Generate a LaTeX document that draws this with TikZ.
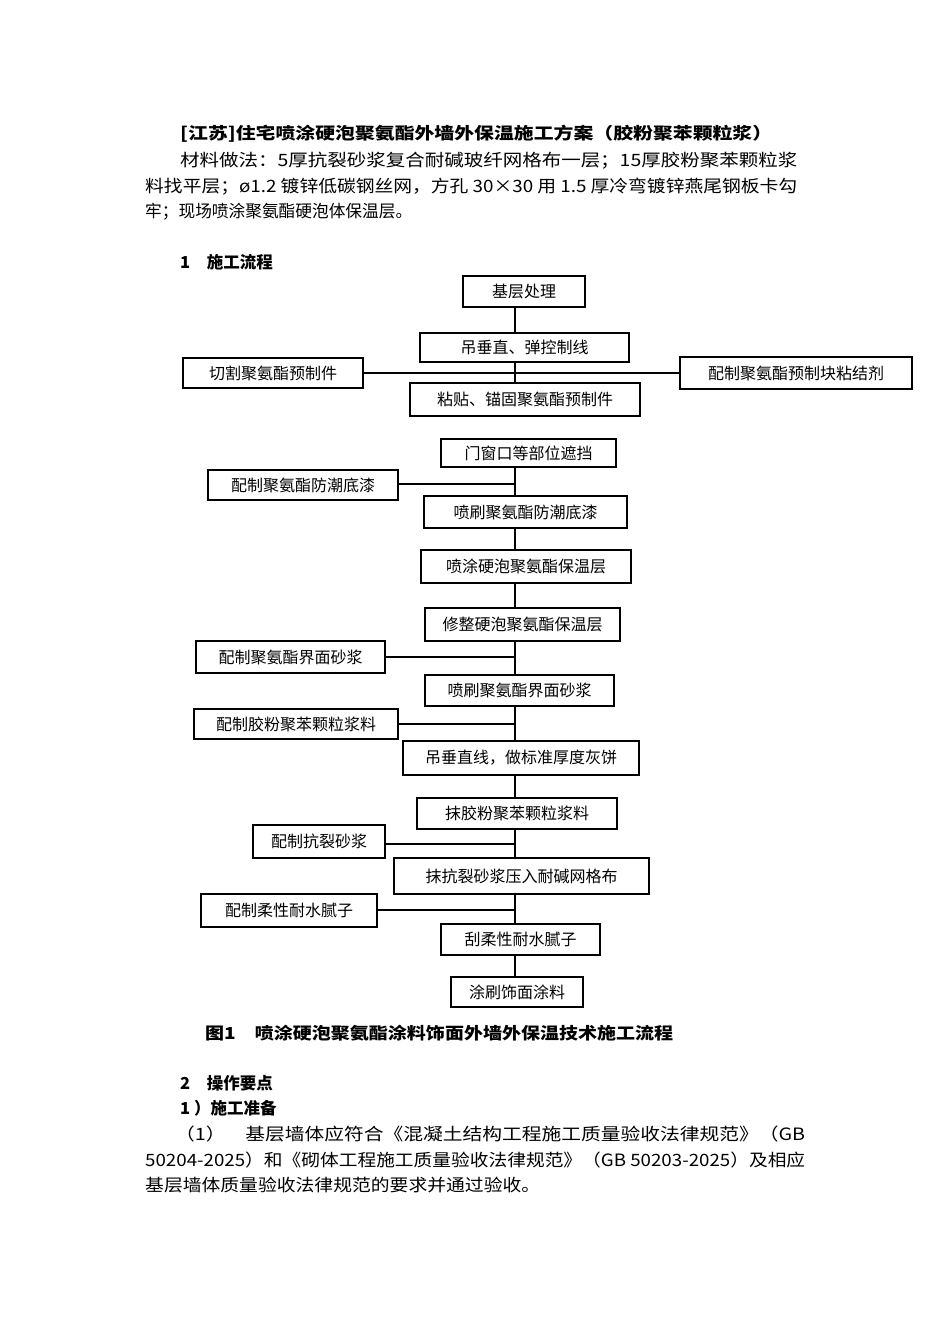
\documentclass[tikz,border=0pt]{standalone}
\usepackage{fontspec}
\usepackage{graphicx}
\setmainfont{Noto Sans CJK SC}
\begin{document}
\begin{tikzpicture}[x=1pt,y=-1pt,
  bx/.style={draw,line width=1.2pt,inner sep=0pt,font=\fontsize{16}{18}\selectfont},
  ln/.style={line width=1.1pt},
  tx/.style={anchor=west,inner sep=0pt,font=\fontsize{17}{18}\selectfont},
  hd/.style={anchor=west,inner sep=0pt,font=\fontsize{16.5}{18}\selectfont\bfseries}]
\useasboundingbox (0,0) rectangle (950,1344);
\newcommand\bbox[6]{\node[bx,minimum width=#4-#2,minimum height=#5-#3] (#1) at ({(#2+#4)/2},{(#3+#5)/2}) {#6};}
\newcommand\txw[2]{\resizebox{#1pt}{\height}{#2}}
\bbox{a}{463}{276}{585}{307}{基层处理}
\bbox{b}{420}{333}{629}{362}{吊垂直、弹控制线}
\bbox{c}{183}{358}{363}{388}{切割聚氨酯预制件}
\bbox{d}{680}{357}{912}{389}{配制聚氨酯预制块粘结剂}
\bbox{e}{410}{383}{640}{416}{粘贴、锚固聚氨酯预制件}
\bbox{f}{441}{439}{616}{467}{门窗口等部位遮挡}
\bbox{g}{208}{470}{398}{500}{配制聚氨酯防潮底漆}
\bbox{h}{424}{496}{627}{528}{喷刷聚氨酯防潮底漆}
\bbox{i}{421}{550}{631}{583}{喷涂硬泡聚氨酯保温层}
\bbox{j}{425}{608}{620}{641}{修整硬泡聚氨酯保温层}
\bbox{k}{196}{641}{385}{673}{配制聚氨酯界面砂浆}
\bbox{l}{425}{675}{614}{706}{喷刷聚氨酯界面砂浆}
\bbox{m}{194}{709}{398}{739}{配制胶粉聚苯颗粒浆料}
\bbox{n}{403}{741}{639}{775}{吊垂直线，做标准厚度灰饼}
\bbox{o}{417}{798}{617}{829}{抹胶粉聚苯颗粒浆料}
\bbox{p}{253}{825}{385}{858}{配制抗裂砂浆}
\bbox{q}{394}{858}{649}{894}{抹抗裂砂浆压入耐碱网格布}
\bbox{r}{201}{894}{377}{927}{配制柔性耐水腻子}
\bbox{s}{441}{924}{600}{955}{刮柔性耐水腻子}
\bbox{t}{451}{977}{583}{1007}{涂刷饰面涂料}
% spine
\draw[ln] (a.south -| 515,0) -- (b.north -| 515,0);
\draw[ln] (b.south -| 515,0) -- (e.north -| 515,0);
\draw[ln] (c.east) -- (d.west);
\draw[ln] (f.south -| 515,0) -- (h.north -| 515,0);
\draw[ln] (g.east |- 0,484) -- (515,484);
\draw[ln] (h.south -| 515,0) -- (i.north -| 515,0);
\draw[ln] (i.south -| 515,0) -- (j.north -| 515,0);
\draw[ln] (j.south -| 515,0) -- (l.north -| 515,0);
\draw[ln] (k.east |- 0,657) -- (515,657);
\draw[ln] (l.south -| 515,0) -- (n.north -| 515,0);
\draw[ln] (m.east |- 0,724) -- (515,724);
\draw[ln] (n.south -| 515,0) -- (o.north -| 515,0);
\draw[ln] (o.south -| 515,0) -- (q.north -| 515,0);
\draw[ln] (p.east |- 0,844) -- (515,844);
\draw[ln] (q.south -| 515,0) -- (s.north -| 515,0);
\draw[ln] (r.east |- 0,910) -- (515,910);
\draw[ln] (s.south -| 515,0) -- (t.north -| 515,0);
% texts
\node[hd] (T) at (180,134) {\txw{592}{[江苏]住宅喷涂硬泡聚氨酯外墙外保温施工方案（胶粉聚苯颗粒浆）}};
\node[tx] (p1) at (180,161) {\txw{617}{材料做法：5厚抗裂砂浆复合耐碱玻纤网格布一层；15厚胶粉聚苯颗粒浆}};
\node[tx] (p2) at (145,187) {\txw{652}{料找平层；ø1.2 镀锌低碳钢丝网，方孔 30×30 用 1.5 厚冷弯镀锌燕尾钢板卡勾}};
\node[tx] (p3) at (145,212) {\txw{267}{牢；现场喷涂聚氨酯硬泡体保温层。}};
\node[hd] (h1) at (180,262) {1\quad 施工流程};
\node[hd] (cap) at (205,1033) {\txw{468}{图1\quad 喷涂硬泡聚氨酯涂料饰面外墙外保温技术施工流程}};
\node[hd] (h2) at (180,1083) {2\quad 操作要点};
\node[hd] (h3) at (180,1108) {1 ）施工准备};
\node[tx] (q1) at (175,1134) {\txw{630}{（1）\quad 基层墙体应符合《混凝土结构工程施工质量验收法律规范》（GB}};
\node[tx] (q2) at (145,1160) {\txw{660}{50204-2025）和《砌体工程施工质量验收法律规范》（GB 50203-2025）及相应}};
\node[tx] (q3) at (145,1185) {\txw{395}{基层墙体质量验收法律规范的要求并通过验收。}};
\end{tikzpicture}
\end{document}
